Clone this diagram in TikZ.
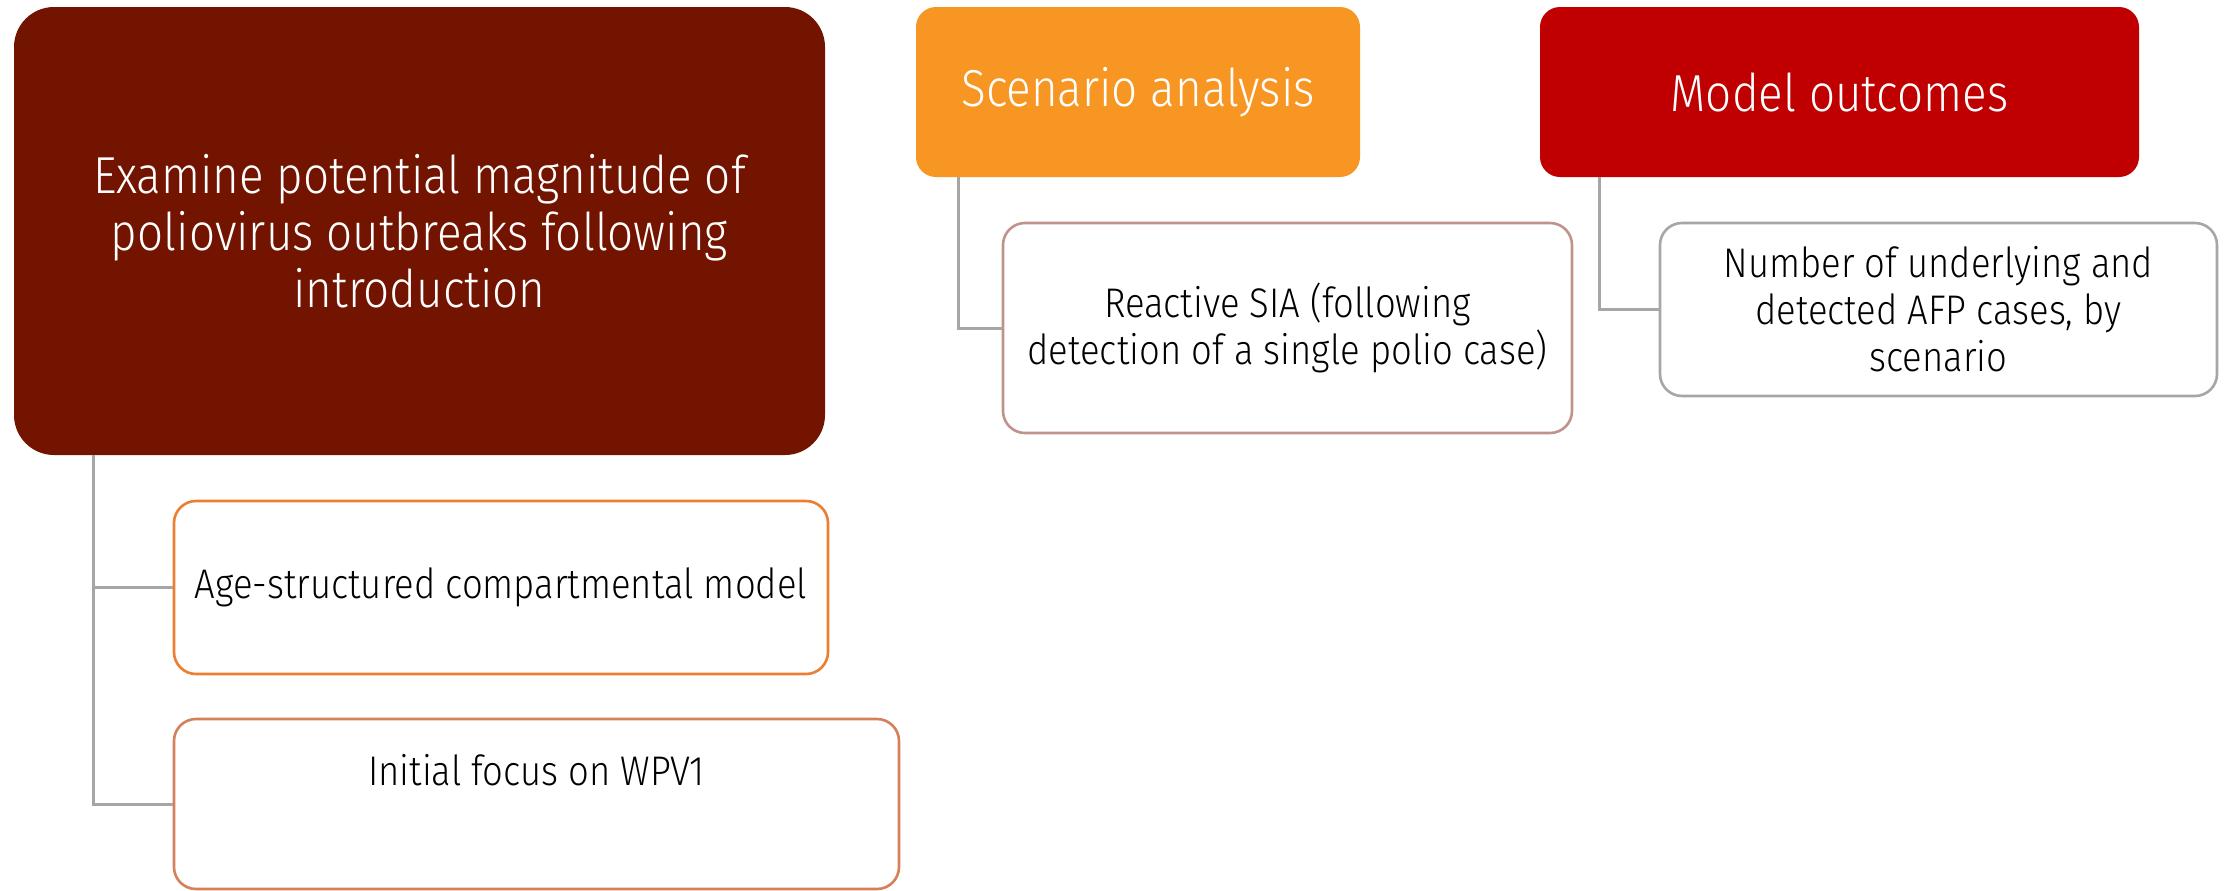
\documentclass[tikz,border=0pt]{standalone}
\usepackage{fontspec}
\setmainfont{Fira Sans}[UprightFont={* Light},FakeStretch=0.88]
\usepackage{tikz}
\usetikzlibrary{positioning}
\definecolor{goal}{HTML}{731400}
\definecolor{scen}{HTML}{F79622}
\definecolor{outc}{HTML}{C00000}
\definecolor{agebd}{HTML}{ED7D31}
\definecolor{initbd}{HTML}{D4805A}
\definecolor{reacbd}{HTML}{C0928C}
\definecolor{numbd}{HTML}{A6A6A6}
\definecolor{linkgray}{HTML}{A6A6A6}
\tikzset{
  headbox/.style={rounded corners=10pt,text=white,align=center,inner sep=0pt,
    font=\fontsize{26}{28.5}\selectfont},
  goalbox/.style={headbox,fill=goal,rounded corners=20pt},
  scenbox/.style={headbox,fill=scen},
  outcbox/.style={headbox,fill=outc},
  childbox/.style={draw,line width=1.3pt,fill=white,rounded corners=11pt,align=center,
    inner sep=0pt,text=black,font=\fontsize{20.7}{23.5}\selectfont},
  link/.style={draw=linkgray,line width=1.5pt},
}

\begin{document}
\begin{tikzpicture}[x=0.5pt,y=-0.5pt]
\path[use as bounding box,fill=white] (0,0) rectangle (2224,890);

\node[goalbox,minimum width=405.5pt,minimum height=224pt] (goal) at (419.5,231)
{Examine potential magnitude of\\poliovirus outbreaks following\\introduction};
\node[scenbox,minimum width=222pt,minimum height=85pt] (scen) at (1138,92) {Scenario analysis};
\node[outcbox,minimum width=299.5pt,minimum height=85pt] (outc) at (1839.5,92) {Model outcomes};

% sub-items
\node[childbox,draw=agebd,minimum width=327pt,minimum height=86.5pt] (age) at (501,587.5)
{Age-structured compartmental model};
\node[childbox,draw=initbd,minimum width=362.5pt,minimum height=85pt] (init) at (536.5,804)
{\raisebox{17pt}[\height][\depth]{Initial focus on WPV1}};
\node[childbox,draw=reacbd,minimum width=284.5pt,minimum height=105pt] (reac) at (1287.5,328)
{Reactive SIA (following\\detection of a single polio case)};
\node[childbox,draw=numbd,minimum width=278.5pt,minimum height=86.5pt] (num) at (1938.5,309.5)
{Number of underlying and\\detected AFP cases, by\\scenario};

\coordinate (gtrunk) at ([xshift=40pt]goal.south west);
\coordinate (strunk) at ([xshift=21.5pt]scen.south west);
\coordinate (otrunk) at ([xshift=30pt]outc.south west);

\draw[link] (gtrunk) |- (age.west);
\draw[link] (gtrunk) |- (init.west);
\draw[link] (strunk) |- (reac.west);
\draw[link] (otrunk) |- (num.west);

\end{tikzpicture}
\end{document}
